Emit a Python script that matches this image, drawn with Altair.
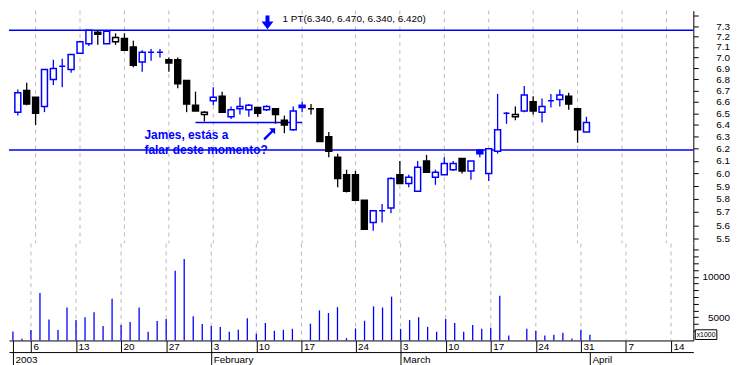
import json
import altair as alt
import pandas as pd

# ---------------- data ----------------
idx = list(range(65))
open_ = [6.51, 6.70, 6.64, 6.56, 6.80, 6.92, 6.89, 7.04, 7.13, 7.24,
         7.13, 7.15, 7.18, 7.10, 6.96, 7.05, 7.05, 6.98, 6.98, 6.79,
         6.57, 6.49, 6.61, 6.65, 6.47, 6.54, 6.53, 6.55, 6.53, 6.54,
         6.44, 6.36, 6.57, 6.54, 6.54, 6.30, 6.13, 5.99, 5.99, 5.79,
         5.62, 5.71, 5.73, 5.99, 5.92, 5.86, 6.10, 5.97, 5.99, 6.03,
         6.12, 6.02, 6.19, 6.00, 6.18, 6.50, 6.47, 6.52, 6.60, 6.51,
         6.61, 6.62, 6.65, 6.54, 6.34]
high = [6.71, 6.77, 6.64, 6.89, 6.98, 6.99, 7.03, 7.16, 7.26, 7.26,
        7.26, 7.23, 7.23, 7.16, 7.07, 7.08, 7.08, 7.00, 7.00, 6.79,
        6.69, 6.52, 6.73, 6.69, 6.56, 6.64, 6.58, 6.55, 6.57, 6.54,
        6.48, 6.56, 6.60, 6.58, 6.54, 6.34, 6.16, 6.03, 6.02, 5.79,
        5.71, 5.76, 5.97, 6.10, 5.99, 6.10, 6.15, 6.03, 6.13, 6.10,
        6.12, 6.10, 6.19, 6.20, 6.67, 6.51, 6.56, 6.74, 6.65, 6.63,
        6.67, 6.71, 6.68, 6.54, 6.47]
low = [6.48, 6.57, 6.40, 6.51, 6.75, 6.73, 6.86, 7.04, 7.11, 7.12,
       7.13, 7.12, 7.07, 6.91, 6.87, 6.97, 7.00, 6.87, 6.72, 6.51,
       6.52, 6.43, 6.57, 6.51, 6.45, 6.49, 6.47, 6.47, 6.52, 6.41,
       6.33, 6.35, 6.51, 6.49, 6.26, 6.13, 5.89, 5.85, 5.79, 5.57,
       5.56, 5.62, 5.69, 5.92, 5.89, 5.86, 6.01, 5.91, 5.99, 6.02,
       6.00, 5.95, 6.13, 5.94, 6.16, 6.41, 6.44, 6.51, 6.49, 6.42,
       6.55, 6.56, 6.53, 6.25, 6.34]
close = [6.68, 6.58, 6.50, 6.89, 6.90, 6.92, 7.03, 7.15, 7.26, 7.22,
         7.25, 7.19, 7.07, 6.93, 7.05, 7.05, 7.05, 6.95, 6.76, 6.58,
         6.52, 6.51, 6.64, 6.51, 6.53, 6.56, 6.57, 6.50, 6.56, 6.49,
         6.40, 6.52, 6.55, 6.54, 6.26, 6.18, 5.96, 5.86, 5.79, 5.57,
         5.71, 5.71, 5.96, 5.92, 5.97, 6.05, 6.01, 6.01, 6.08, 6.08,
         6.02, 6.10, 6.16, 6.20, 6.36, 6.50, 6.49, 6.66, 6.52, 6.56,
         6.61, 6.66, 6.58, 6.36, 6.42]
# volume in thousands (x1000); None = no bar
volume = [3240, 2330, 3400, 8000, 4720, 3400, 6200, 4640, 5000, 5600,
          3920, 7280, 4040, 4400, 6200, 3200, 4520, 4760, 10750, 12190,
          5120, 4160, 3920, 3800, 3200, 3440, 4880, 2960, 4280, 3320,
          3440, 3560, None, 4200, 5840, 5520, 6240, 2400, 3600, 4560,
          6340, 6200, 7540, 3560, 4640, 5000, 3800, 3200, 4760, 4280,
          3200, 4040, 3560, 3680, 7640, 2720, None, 3560, 3320, 2720,
          2840, 3080, 2360, 3440, 2840]

week_idx = [2, 7, 12, 17, 22, 27, 32, 38, 43, 48, 53, 58, 63, 68, 73]
week_lbl = ["6", "13", "20", "27", "3", "10", "17", "24", "3", "10", "17",
            "24", "31", "7", "14"]
month_idx = [0, 22, 43, 64]
month_lbl = ["2003", "February", "March", "April"]

price_ticks = [5.5, 5.6, 5.7, 5.8, 5.9, 6.0, 6.1, 6.2, 6.3, 6.4, 6.5, 6.6,
               6.7, 6.8, 6.9, 7.0, 7.1, 7.2, 7.3, 7.4]
vol_ticks = [3333.3, 4166.7, 5000, 5833.3, 6666.7, 7500, 8333.3, 9166.7,
             10000, 10833.3, 11666.7, 12500, 13333.3]

hlines = [7.26, 6.19]
support = {"x0": 20, "x1": 32, "price": 6.42}
info_text = "1 PT(6.340, 6.470, 6.340, 6.420)"
note_lines = ["James, estás a", "falar deste momento?"]

# ---------------- layout ----------------
SX = 730 / 738
SY = 357 / 365
W = 698 * SX
H1 = 240 * SY
H2 = 100 * SY
BLUE = "#0000ff"
FONT = "Liberation Sans"

XDOM = [-0.435, 75.47]
PDOM = [5.4676, 7.4523]
VDOM = [2123, 14113]

xs = alt.Scale(domain=XDOM, nice=False, zero=False)
ps = alt.Scale(type="log", domain=PDOM, nice=False)
vs = alt.Scale(domain=VDOM, nice=False, zero=False)

# ---------------- frames ----------------
df = pd.DataFrame({"idx": idx, "open": open_, "high": high, "low": low,
                   "close": close})
prev = df["close"].shift(1).fillna(-1)
df["col"] = ["#0000ff" if c >= p else "#000000" for c, p in zip(df["close"], prev)]
df["fillc"] = [col if c < o else "#ffffff"
               for col, c, o in zip(df["col"], df["close"], df["open"])]
df["bot"] = df[["open", "close"]].min(axis=1)
df["top"] = df[["open", "close"]].max(axis=1)

vol_df = pd.DataFrame({"idx": idx, "vol": volume}).dropna()
grid_df = pd.DataFrame({"idx": week_idx})
month_df = pd.DataFrame({"idx": month_idx})
hl_df = pd.DataFrame({"price": hlines})
sup_df = pd.DataFrame([support])
info_df = pd.DataFrame({"idx": [29.8], "price": [7.373], "t": [info_text]})
note_df = pd.DataFrame({"idx": [14.25, 14.25], "price": [6.315, 6.189],
                        "t": note_lines})
shaft_df = pd.DataFrame({"idx": [28.1], "p1": [7.404], "p2": [7.335]})
head_df = pd.DataFrame({"idx": [28.1], "price": [7.309]})
diag_df = pd.DataFrame({"idx": [28.29], "price": [6.321]})
one = pd.DataFrame({"a": [0]})

day_arr = [""] * 80
for i, l in zip(week_idx, week_lbl):
    day_arr[i] = l
mon_arr = [""] * 80
for i, l in zip(month_idx, month_lbl):
    mon_arr[i] = l

day_axis = alt.Axis(values=[0] + week_idx,
                    labelExpr=json.dumps(day_arr) + "[round(datum.value)]",
                    tickSize=12 * SY, labelPadding=-6 * SY,
                    labelBaseline="middle", labelAlign="left", labelOffset=2,
                    labelFlush=False, labelOverlap=False, grid=False,
                    title=None, domainColor="black", tickColor="black")
month_axis = alt.Axis(orient="bottom", offset=12 * SY,
                      values=month_idx,
                      labelExpr=json.dumps(mon_arr) + "[round(datum.value)]",
                      tickSize=13 * SY, labelPadding=-5 * SY,
                      labelBaseline="middle", labelAlign="left", labelOffset=2,
                      labelFlush=False, labelOverlap=False, grid=False,
                      title=None, domainColor="black", tickColor="black")
price_axis = alt.Axis(orient="right", values=price_ticks,
                      labelExpr="datum.value > 7.35 ? '' : format(datum.value, '.1f')",
                      tickSize=5, labelPadding=31.6, labelAlign="right",
                      labelBaseline="middle", labelFlush=False,
                      labelBound=False, zindex=2,
                      labelOverlap=False, grid=False, title=None,
                      domainColor="black", tickColor="black")
vol_axis = alt.Axis(orient="right", values=vol_ticks,
                    labelExpr="abs(datum.value-5000)<1 ? '5000' : abs(datum.value-10000)<1 ? '10000' : ''",
                    tickSize=5, labelPadding=31.6, labelAlign="right",
                    labelBaseline="middle", labelFlush=False,
                    labelOverlap=False, grid=False, title=None,
                    domainColor="black", tickColor="black")

X = lambda f="idx": alt.X(f + ":Q", scale=xs, axis=None)
Y = lambda f: alt.Y(f + ":Q", scale=ps, axis=price_axis)

# ---------------- price panel ----------------
grid = alt.Chart(grid_df).mark_rule(color="#b8b8b8", strokeDash=[4, 4],
                                    strokeWidth=1).encode(x=X())
hl = alt.Chart(hl_df).mark_rule(color=BLUE, strokeWidth=1.5).encode(
    y=Y("price"))
sup = alt.Chart(sup_df).mark_rule(color=BLUE, strokeWidth=1.5).encode(
    x=X("x0"), x2="x1:Q", y=Y("price"))
wick = alt.Chart(df).mark_rule(strokeWidth=1.3).encode(
    x=X(), y=Y("low"), y2="high:Q", color=alt.Color("col:N", scale=None))
body = alt.Chart(df).mark_bar(size=6, strokeWidth=1.5).encode(
    x=X(), y=Y("bot"), y2="top:Q",
    fill=alt.Fill("fillc:N", scale=None),
    stroke=alt.Stroke("col:N", scale=None))
info = alt.Chart(info_df).mark_text(align="left", baseline="middle", font=FONT,
                                    fontSize=10, color="black").encode(
    x=X(), y=Y("price"), text="t:N")
note = alt.Chart(note_df).mark_text(align="left", baseline="middle", font=FONT,
                                    fontSize=12, fontWeight="bold",
                                    color=BLUE).encode(
    x=X(), y=Y("price"), text="t:N")
shaft = alt.Chart(shaft_df).mark_rule(color=BLUE, strokeWidth=4).encode(
    x=X(), y=Y("p1"), y2="p2:Q")
head = alt.Chart(head_df).mark_point(
    shape="M-1,-0.6L1,-0.6L0,0.7Z", size=144, filled=True, color=BLUE,
    opacity=1).encode(x=X(), y=Y("price"))
diag = alt.Chart(diag_df).mark_point(
    shape="M1,-1L1,0L0.64,-0.36L-0.71,0.99L-0.99,0.71L0.36,-0.64L0,-1Z",
    size=144, filled=True, color=BLUE, opacity=1).encode(x=X(), y=Y("price"))

price = alt.layer(grid, hl, sup, wick, body, info, note, shaft, head, diag
                  ).properties(width=W, height=H1)

# ---------------- volume panel ----------------
vgrid = alt.Chart(grid_df).mark_rule(color="#b8b8b8", strokeDash=[4, 4],
                                     strokeWidth=1).encode(x=X())
vol = alt.Chart(vol_df).mark_rule(color=BLUE, strokeWidth=1.3).encode(
    x=alt.X("idx:Q", scale=xs, axis=day_axis),
    y=alt.Y("vol:Q", scale=vs, axis=vol_axis),
    y2=alt.datum(VDOM[0]))
month = alt.Chart(month_df).mark_point(opacity=0).encode(
    x=alt.X("idx:Q", scale=xs, axis=month_axis), y=alt.value(0))
box = alt.Chart(one).mark_rect(fill="white", stroke="black", strokeWidth=1).encode(
    x=alt.value(700 * SX), x2=alt.value(722 * SX),
    y=alt.value(89 * SY), y2=alt.value(99 * SY))
boxtxt = alt.Chart(one).mark_text(text="x1000", font=FONT, fontSize=7,
                                  color="black", align="center",
                                  baseline="middle").encode(
    x=alt.value(711 * SX), y=alt.value(94 * SY))

volume_panel = alt.layer(vgrid, vol, month, box, boxtxt).resolve_scale(
    x="independent").properties(width=W, height=H2)

chart = alt.vconcat(price, volume_panel, spacing=0, bounds="flush").resolve_scale(
    x="independent", y="independent").properties(
    padding=0, background="white").configure_view(stroke=None).configure_axis(
    labelFont=FONT, labelFontSize=10, labelColor="black", domainWidth=1,
    tickWidth=1)

chart.save("out.html", embed_options={"renderer": "svg", "actions": False})
